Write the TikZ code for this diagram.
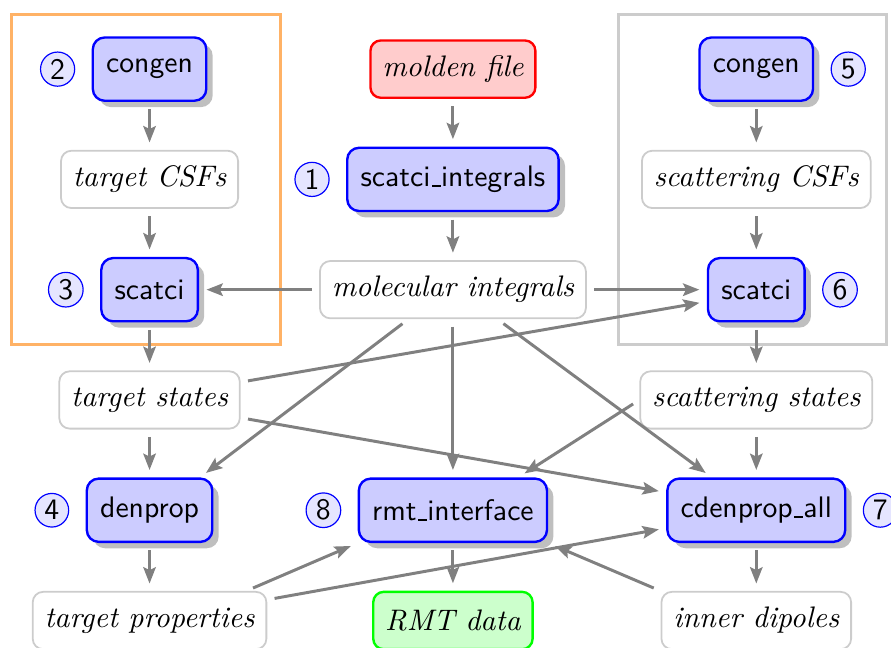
\documentclass[tikz,border=0pt]{standalone}
\usepackage{amsmath}
\usetikzlibrary{positioning, calc, shadows, arrows.meta}

\newcommand{\uscore}{\leavevmode\kern.06em\vbox{\hrule width.3em}}

\tikzset{
  prog/.style={draw=blue, thick, fill=blue!20, rounded corners=4pt, drop shadow, font=\sffamily, inner xsep=4.5pt, minimum height=21.3pt},
  data/.style={draw=black!20, semithick, fill=white, rounded corners=3.5pt, font=\itshape, inner xsep=4pt, minimum height=19.3pt},
  num/.style={circle, draw=blue, fill=blue!10, inner sep=1.1pt, font=\sffamily, on grid=false},
  flow/.style={->, draw=gray, line width=1pt, shorten <=2.5pt, shorten >=2.5pt},
}

\begin{document}
\begin{tikzpicture}[node distance=1.305cm and 3.59cm, on grid, >={Stealth[length=5.5pt, width=4.2pt, inset=1pt]}]

  \useasboundingbox (-152.5pt,60.4pt) rectangle (147.5pt,-157.7pt);

  % integrals and outer region
  \node[prog] (sci) {scatci\uscore integrals};
  \node[data, fill=red!20, draw=red, thick, above=of sci] (molden) {molden file};
  \node[data, below=of sci] (mol) {molecular integrals};
  \node[prog, below=2.61cm of mol] (rmt) {rmt\uscore interface};
  \node[data, fill=green!20, draw=green, thick, below=of rmt] (rmtdata) {RMT data};

  % target
  \node[prog, left=of molden] (cg2) {congen};
  \node[data, below=of cg2] (tcsf) {target CSFs};
  \node[prog, below=of tcsf] (sc3) {scatci};
  \node[data, below=of sc3] (ts) {target states};
  \node[prog, below=of ts] (dp) {denprop};
  \node[data, below=of dp] (tp) {target properties};

  % scattering
  \node[prog, right=of molden] (cg5) {congen};
  \node[data, below=of cg5] (scsf) {scattering CSFs};
  \node[prog, below=of scsf] (sc6) {scatci};
  \node[data, below=of sc6] (ss) {scattering states};
  \node[prog, below=of ss] (cd) {cdenprop\uscore all};
  \node[data, below=of cd] (id) {inner dipoles};

  % run order
  \node[num, left=5.5pt of sci] (n1) {1};
  \node[num, left=5.5pt of cg2] (n2) {2};
  \node[num, left=5.5pt of sc3] (n3) {3};
  \node[num, left=5.5pt of dp] (n4) {4};
  \node[num, right=5.5pt of cg5] (n5) {5};
  \node[num, right=5.5pt of sc6] (n6) {6};
  \node[num, right=5.5pt of cd] (n7) {7};
  \node[num, left=5.5pt of rmt] (n8) {8};

  \draw[orange!60, line width=1pt] ($(cg2)+(-46.5pt,18.5pt)$) rectangle ($(sc3)+(44pt,-18.3pt)$);
  \draw[black!20, line width=1pt] ($(cg5)+(-46.5pt,18.5pt)$) rectangle ($(sc6)+(44pt,-18.3pt)$);

  \draw[flow] (molden) -- (sci);
  \draw[flow] (sci) -- (mol);
  \draw[flow] (mol) -- (rmt);
  \draw[flow] (rmt) -- (rmtdata);
  \draw[flow] (cg2) -- (tcsf);
  \draw[flow] (tcsf) -- (sc3);
  \draw[flow] (sc3) -- (ts);
  \draw[flow] (ts) -- (dp);
  \draw[flow] (dp) -- (tp);
  \draw[flow] (cg5) -- (scsf);
  \draw[flow] (scsf) -- (sc6);
  \draw[flow] (sc6) -- (ss);
  \draw[flow] (ss) -- (cd);
  \draw[flow] (cd) -- (id);
  \draw[flow] (mol) -- (sc3);
  \draw[flow] (mol) -- (sc6);
  \draw[flow] ([yshift=6pt]ts.east) -- ([yshift=-4pt]sc6.west);
  \draw[flow] ([yshift=-6pt]ts.east) -- ([yshift=6pt]cd.west);
  \draw[flow] ([xshift=-15pt]mol.south) -- ([xshift=17pt]dp.north);
  \draw[flow] ([xshift=15pt]mol.south) -- ([xshift=-15pt]cd.north);
  \draw[flow] (ss.west) -- ([xshift=22pt]rmt.north);
  \draw[flow] (tp.17) -- (rmt.south west);
  \draw[flow] ([yshift=7pt]tp.east) -- ([yshift=-6pt]cd.west);
  \draw[flow] (id.north west) -- (rmt.south east);

\end{tikzpicture}
\end{document}
